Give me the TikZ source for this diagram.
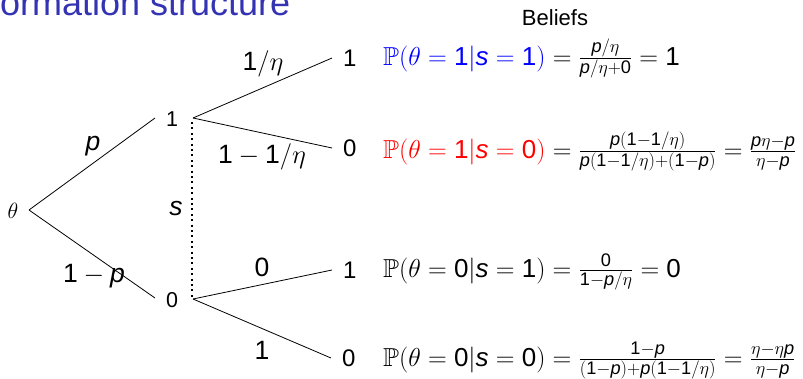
\RequirePackage{fix-cm}
\documentclass[tikz,border=0pt]{standalone}
\usepackage{amssymb}
\usepackage{fontspec}
\setmainfont{Liberation Sans}
\DeclareSymbolFont{sfdig}{TU}{\rmdefault}{m}{n}
\AtBeginDocument{%
  \mathcode`0=\numexpr\symsfdig*256+`0\relax
  \mathcode`1=\numexpr\symsfdig*256+`1\relax}
\usetikzlibrary{calc}
\definecolor{titleblue}{RGB}{51,51,179}
\newcommand\vp{\mathit{p}}
\newcommand\vs{\mathit{s}}
\tikzset{
  edge/.style={line width=0.8pt},
  infoset/.style={line width=2pt, dash pattern=on 2pt off 3.4pt},
  lbl/.style={font=\fontsize{26.5}{31}\selectfont, inner sep=0pt},
  leaf/.style={font=\fontsize{24}{28}\selectfont, anchor=west, inner sep=0pt, xshift=11pt},
  inode/.style={font=\fontsize{21.5}{26}\selectfont, inner sep=0pt},
  belief/.style={font=\fontsize{26}{30}\selectfont, anchor=base west, inner sep=0pt},
}
\begin{document}
\begin{tikzpicture}[x=1pt,y=-1pt]
\useasboundingbox (0,0) rectangle (803,378);
\node[anchor=base west, inner sep=0pt, text=titleblue, font=\fontsize{36}{40}\selectfont] (title) at (0,15) {ormation structure};
\node[anchor=base, inner sep=0pt, font=\fontsize{22}{26}\selectfont] (bel) at (555,25) {Beliefs};

% tree
\node[font=\fontsize{22}{26}\selectfont, inner sep=0pt] (root) at (13,211) {$\theta$};
\coordinate (rv) at (29,210);
\node[inode] (n1) at (172,119) {1};
\node[inode] (n0) at (172,300) {0};
\coordinate (a1) at (155,118);
\coordinate (a0) at (155,298);
\coordinate (d1) at (193,118);
\coordinate (d0) at (193,299);
\coordinate (e11) at (332,58);
\coordinate (e10) at (332,148);
\coordinate (e01) at (332,270);
\coordinate (e00) at (331,358);
\node[leaf] (l11) at (e11) {1};
\node[leaf] (l10) at (e10) {0};
\node[leaf] (l01) at (e01) {1};
\node[leaf] (l00) at (e00) {0};

\draw[edge] (rv) -- (a1);
\draw[edge] (rv) -- (a0);
\draw[edge] (d1) -- (e11);
\draw[edge] (d1) -- (e10);
\draw[edge] (d0) -- (e01);
\draw[edge] (d0) -- (e00);
\draw[infoset] ($(d1)+(-1,4)$) -- ($(d0)+(-1,-1)$);

% edge labels
\node[lbl] (pl) at (93,146) {$\vp$};
\node[lbl] (qpl) at (94,276) {$1-\vp$};
\node[lbl] (sl) at (176,209) {$\vs$};
\node[lbl] (u1) at (263,64) {$1/\eta$};
\node[lbl] (u0) at (262,157) {$1-1/\eta$};
\node[lbl] (w1) at (262,267) {$0$};
\node[lbl] (w0) at (262,350) {$1$};

% beliefs
\node[belief] (b11) at (383,65) {\textcolor{blue}{$\mathbb{P}(\theta=1|\vs=1)$}${}=\frac{\vp/\eta}{\vp/\eta+0}=1$};
\node[belief] (b10) at (383,158) {\textcolor{red}{$\mathbb{P}(\theta=1|\vs=0)$}${}=\frac{\vp(1-1/\eta)}{\vp(1-1/\eta)+(1-\vp)}=\frac{\vp\eta-\vp}{\eta-\vp}$};
\node[belief] (b01) at (383,277) {$\mathbb{P}(\theta=0|\vs=1)=\frac{0}{1-\vp/\eta}=0$};
\node[belief] (b00) at (383,366) {$\mathbb{P}(\theta=0|\vs=0)=\frac{1-\vp}{(1-\vp)+\vp(1-1/\eta)}=\frac{\eta-\eta\vp}{\eta-\vp}$};
\end{tikzpicture}
\end{document}
